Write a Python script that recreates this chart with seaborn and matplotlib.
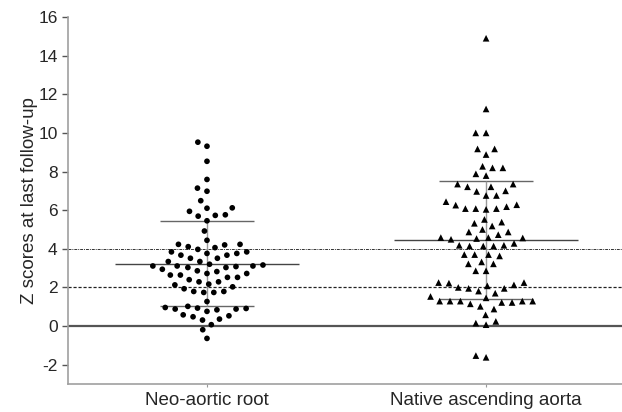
import matplotlib
matplotlib.use("Agg")
import matplotlib.pyplot as plt
import seaborn as sns
import numpy as np
import pandas as pd

categories = ["Neo-aortic root", "Native ascending aorta"]

neo_root = [9.52, 9.31, 8.53, 7.59, 7.14, 6.98, 6.49, 6.10, 5.94, 6.12, 5.73, 5.69, 5.76, 5.45, 4.92,
            4.44, 4.23, 4.11, 4.20, 4.23, 4.06, 3.97,
            3.84, 3.76, 3.67, 3.67, 3.76, 3.84,
            3.51, 3.51, 3.34, 3.34,
            3.20, 3.11, 3.11, 3.11, 3.16,
            3.08, 3.03, 2.94, 3.03,
            2.86, 2.72, 2.64, 2.64, 2.72, 2.82,
            2.52, 2.29, 2.17, 2.29, 2.40, 2.52,
            2.03, 2.13, 1.93,
            1.79, 1.74, 1.74, 1.79,
            1.27,
            1.02, 0.93, 0.88, 0.84, 0.76, 0.88, 0.91, 0.96,
            0.58, 0.48, 0.53, 0.31, 0.36,
            0.07, -0.19, -0.64]

native_aorta = [14.9, 11.24, 10.0, 10.0, 9.17, 9.17, 8.88, 8.19, 8.27, 8.19, 7.88, 7.79,
                7.35, 7.21, 7.21, 7.35, 7.0, 6.97, 6.76, 6.76,
                6.28, 6.18, 6.08, 6.04, 6.08, 6.08, 6.26, 6.44,
                5.52, 5.32, 5.18, 5.38, 5.0, 4.87, 4.87, 4.73,
                4.56, 4.49, 4.58, 4.53, 4.58,
                4.18, 4.14, 4.14, 4.14, 4.18, 4.28,
                3.70, 3.63, 3.70, 3.70,
                3.22, 3.32, 3.22, 2.86, 2.86,
                2.25, 2.22, 2.08, 2.13, 2.25,
                1.95, 2.00, 1.95, 1.81, 1.70, 1.53,
                1.46, 1.29, 1.29, 1.22, 1.15, 1.22, 1.29, 1.29, 1.29,
                1.02, 0.88, 0.58, 0.15, 0.07, 0.24,
                -1.62, -1.53]

group_means = [3.23, 4.47]
group_sds = [2.21, 3.05]
ref_levels = [0, 2, 4]
yticks = list(range(-2, 17, 2))

df = pd.DataFrame({
    "group": [categories[0]] * len(neo_root) + [categories[1]] * len(native_aorta),
    "z": neo_root + native_aorta,
})

sns.set_style("white")
plt.rcParams["font.family"] = ["Liberation Sans", "DejaVu Sans"]

fig = plt.figure(figsize=(6.22, 4.12), dpi=100)
ax = fig.add_axes([0.1093, 0.068, 0.8907, 0.8907])

# reference lines
ax.axhline(ref_levels[0], color="#555555", lw=1.6, zorder=1)
ax.axhline(ref_levels[1], color="#222222", lw=0.9, ls=(0, (2.5, 1.5)), zorder=1)
ax.axhline(ref_levels[2], color="#333333", lw=0.7, ls=(0, (3, 1, 1, 1)), zorder=1)

# mean +/- SD
for i, (m, s) in enumerate(zip(group_means, group_sds)):
    ax.hlines(m, i - 0.33, i + 0.33, color="#444444", lw=1.0, zorder=2)
    ax.hlines([m - s, m + s], i - 0.167, i + 0.167, color="#666666", lw=1.0, zorder=2)
    ax.vlines(i, m - s, m + s, color="#999999", lw=1.0, zorder=2)

sns.swarmplot(data=df[df.group == categories[0]], x="group", y="z", order=categories,
              color="black", marker="o", size=4.1, linewidth=2.8, edgecolor="none",
              ax=ax, zorder=3)
sns.swarmplot(data=df[df.group == categories[1]], x="group", y="z", order=categories,
              color="black", marker="^", size=4.8, linewidth=2.3, edgecolor="none",
              ax=ax, zorder=3)

ax.set_xlim(-0.498, 1.487)
ax.set_ylim(-3, 16)
ax.set_yticks(yticks)
ax.set_yticklabels([str(t) for t in yticks])
ax.set_xlabel("")
ax.set_ylabel("Z scores at last follow-up", fontsize=13.5)
ax.yaxis.set_label_coords(-0.054, 0.5)
ax.tick_params(axis="y", labelsize=12.5, length=4, width=1, color="#555555", direction="out", left=True)
ax.tick_params(axis="x", labelsize=13.5, length=2, width=0.8, color="#999999", direction="out", bottom=True, pad=4)

for side in ["top", "right"]:
    ax.spines[side].set_visible(False)
for side in ["left", "bottom"]:
    ax.spines[side].set_color("#a0a0a0")
    ax.spines[side].set_linewidth(1.2)

fig.savefig("out.png", dpi=100)
